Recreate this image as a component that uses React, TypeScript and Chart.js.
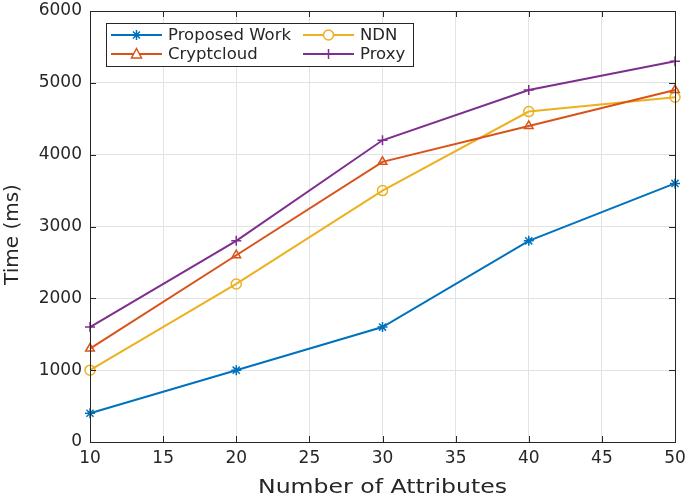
import React, { useEffect, useRef } from "react";
import { Chart, registerables } from "chart.js";

Chart.register(...registerables);

const attributes = [10, 20, 30, 40, 50];
const proposedWork = [400, 1000, 1600, 2800, 3600];
const cryptcloud = [1300, 2600, 3900, 4400, 4900];
const ndn = [1000, 2200, 3500, 4600, 4800];
const proxy = [1600, 2800, 4200, 4900, 5300];

const seriesNames = ["Proposed Work", "Cryptcloud", "NDN", "Proxy"];
const seriesColors = ["#0072BD", "#D95319", "#EDB120", "#7E2F8E"];
const seriesMarkers = ["star", "triangle", "circle", "cross"];
const xTicks = [10, 15, 20, 25, 30, 35, 40, 45, 50];
const yTicks = [0, 1000, 2000, 3000, 4000, 5000, 6000];
const xTitle = "Number of Attributes";
const yTitle = "Time (ms)";

const FONT = "'DejaVu Sans', sans-serif";
const TEXT = "#262626";

function drawMarker(ctx: CanvasRenderingContext2D, style: string, x: number, y: number, color: string) {
  const r = 5;
  ctx.save();
  ctx.strokeStyle = color;
  ctx.fillStyle = "#ffffff";
  ctx.lineWidth = 1.5;
  ctx.beginPath();
  if (style === "circle") {
    ctx.arc(x, y, r, 0, Math.PI * 2);
    ctx.fill();
    ctx.stroke();
  } else if (style === "triangle") {
    ctx.moveTo(x, y - r * 1.1);
    ctx.lineTo(x + r, y + r * 0.8);
    ctx.lineTo(x - r, y + r * 0.8);
    ctx.closePath();
    ctx.fill();
    ctx.stroke();
  } else if (style === "cross") {
    ctx.moveTo(x - r, y);
    ctx.lineTo(x + r, y);
    ctx.moveTo(x, y - r);
    ctx.lineTo(x, y + r);
    ctx.stroke();
  } else {
    const d = r * 0.707;
    ctx.moveTo(x - r, y);
    ctx.lineTo(x + r, y);
    ctx.moveTo(x, y - r);
    ctx.lineTo(x, y + r);
    ctx.moveTo(x - d, y - d);
    ctx.lineTo(x + d, y + d);
    ctx.moveTo(x - d, y + d);
    ctx.lineTo(x + d, y - d);
    ctx.stroke();
  }
  ctx.restore();
}

function stretchedText(ctx: CanvasRenderingContext2D, text: string, x: number, y: number, sx: number, align: CanvasTextAlign) {
  ctx.save();
  ctx.translate(x, y);
  ctx.scale(sx, 1);
  ctx.textAlign = align;
  ctx.fillText(text, 0, 0);
  ctx.restore();
}

const boxPlugin = {
  id: "matlabBox",
  afterDatasetsDraw(chart: any) {
    const { ctx, chartArea: a, scales } = chart;
    ctx.save();
    ctx.strokeStyle = "#262626";
    ctx.lineWidth = 1;
    ctx.strokeRect(a.left + 0.5, a.top + 0.5, a.right - a.left, a.bottom - a.top);
    const tl = 6;
    ctx.beginPath();
    for (const v of xTicks) {
      const x = Math.round(scales.x.getPixelForValue(v)) + 0.5;
      ctx.moveTo(x, a.bottom);
      ctx.lineTo(x, a.bottom - tl);
      ctx.moveTo(x, a.top);
      ctx.lineTo(x, a.top + tl);
    }
    for (const v of yTicks) {
      const y = Math.round(scales.y.getPixelForValue(v)) + 0.5;
      ctx.moveTo(a.left, y);
      ctx.lineTo(a.left + tl, y);
      ctx.moveTo(a.right, y);
      ctx.lineTo(a.right - tl, y);
    }
    ctx.stroke();

    // axis titles
    ctx.fillStyle = TEXT;
    ctx.font = `20px ${FONT}`;
    ctx.textBaseline = "middle";
    stretchedText(ctx, xTitle, (a.left + a.right) / 2, 488, 1.18, "center");
    ctx.save();
    ctx.translate(13, (a.top + a.bottom) / 2 + 8);
    ctx.rotate(-Math.PI / 2);
    ctx.textAlign = "center";
    ctx.fillText(yTitle, 0, 0);
    ctx.restore();

    // legend
    const lx = 106, ly = 23, lw = 307, lh = 43;
    ctx.fillStyle = "#ffffff";
    ctx.fillRect(lx, ly, lw, lh);
    ctx.strokeStyle = "#262626";
    ctx.lineWidth = 1;
    ctx.strokeRect(lx + 0.5, ly + 0.5, lw, lh);
    const cols = [111, 303];
    const rows = [35, 54];
    const order = [0, 2, 1, 3];
    order.forEach((si, k) => {
      const cx = cols[k % 2];
      const cy = rows[Math.floor(k / 2)];
      ctx.strokeStyle = seriesColors[si];
      ctx.lineWidth = 2;
      ctx.beginPath();
      ctx.moveTo(cx, cy);
      ctx.lineTo(cx + 51, cy);
      ctx.stroke();
      drawMarker(ctx, seriesMarkers[si], cx + 25.5, cy, seriesColors[si]);
      ctx.fillStyle = TEXT;
      ctx.font = `15px ${FONT}`;
      ctx.textBaseline = "middle";
      stretchedText(ctx, seriesNames[si], cx + 57, cy + 1, 1.1, "left");
    });
    ctx.restore();
  },
};

export default function App() {
  const ref = useRef<HTMLCanvasElement>(null);
  useEffect(() => {
    document.body.style.margin = "0";
    const all = [proposedWork, cryptcloud, ndn, proxy];
    const chart = new Chart(ref.current!, {
      type: "line",
      data: {
        datasets: all.map((vals, i) => ({
          label: seriesNames[i],
          data: attributes.map((a, j) => ({ x: a, y: vals[j] })),
          borderColor: seriesColors[i],
          backgroundColor: "rgba(255,255,255,0)",
          borderWidth: 2,
          pointStyle: seriesMarkers[i] as any,
          pointRadius: 5,
          pointBorderWidth: 1.5,
          pointBorderColor: seriesColors[i],
          pointBackgroundColor: "rgba(255,255,255,0)",
          tension: 0,
          clip: false as any,
        })),
      },
      options: {
        animation: false,
        responsive: false,
        layout: { padding: { top: 11, right: 10, left: 0, bottom: 0 } },
        plugins: { legend: { display: false }, tooltip: { enabled: false } },
        scales: {
          x: {
            type: "linear",
            min: 10,
            max: 50,
            afterBuildTicks: (s: any) => {
              s.ticks = xTicks.map((v) => ({ value: v }));
            },
            afterFit: (s: any) => {
              s.height = 57;
              s.paddingLeft = 0;
              s.paddingRight = 0;
            },
            grid: { color: "#e3e3e3", drawTicks: false },
            border: { display: false },
            ticks: {
              color: TEXT,
              font: { family: FONT, size: 17 },
              padding: 6,
              maxRotation: 0,
            },
          },
          y: {
            min: 0,
            max: 6000,
            afterBuildTicks: (s: any) => {
              s.ticks = yTicks.map((v) => ({ value: v }));
            },
            afterFit: (s: any) => {
              s.width = 90;
              s.paddingTop = 0;
              s.paddingBottom = 0;
            },
            grid: { color: "#e3e3e3", drawTicks: false },
            border: { display: false },
            ticks: {
              color: TEXT,
              font: { family: FONT, size: 17 },
              padding: 8,
              callback: (v: any) => String(v),
            },
          },
        },
      },
      plugins: [boxPlugin],
    });
    return () => chart.destroy();
  }, []);
  return (
    <div style={{ width: 685, height: 499 }}>
      <canvas ref={ref} width={685} height={499} style={{ display: "block" }} />
    </div>
  );
}
